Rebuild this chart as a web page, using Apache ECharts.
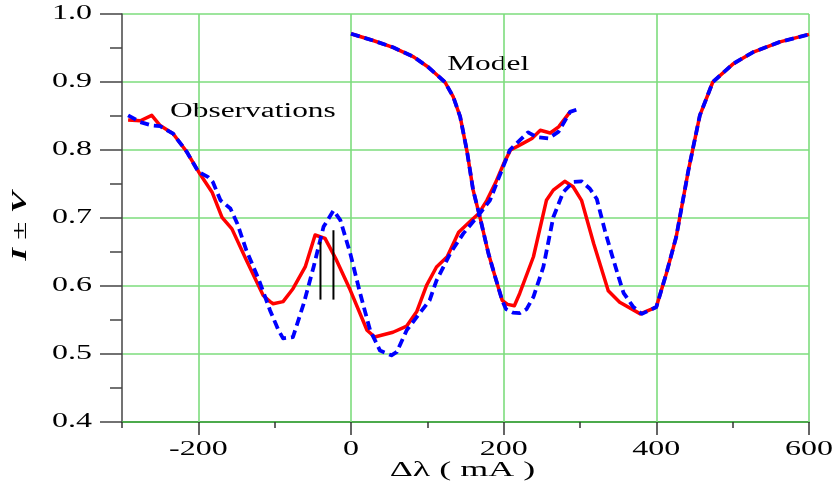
<!DOCTYPE html>
<html>
<head>
<meta charset="utf-8">
<script src="https://cdn.jsdelivr.net/npm/echarts@6/dist/echarts.min.js"></script>
<style>
  html, body { margin: 0; padding: 0; background: #ffffff; }
  #chart { width: 837px; height: 485px; }
</style>
</head>
<body>
<div id="chart"></div>
<script>
// Observed Stokes profiles: offset from line centre (mA) and I+V / I-V
const obsPlusX  = [-292, -276, -261, -250, -233, -215, -198, -182, -169, -156, -137, -115, -106, -102, -89, -76, -60, -47, -34, -19, -1, 21, 31, 55, 73, 86, 99, 112, 126, 141, 158, 167, 178, 189, 200, 209, 224, 237, 248, 261, 272, 287];
const obsPlusY  = [0.844, 0.843, 0.851, 0.836, 0.824, 0.797, 0.765, 0.738, 0.701, 0.684, 0.638, 0.586, 0.577, 0.574, 0.577, 0.596, 0.628, 0.675, 0.670, 0.638, 0.594, 0.535, 0.525, 0.532, 0.541, 0.562, 0.601, 0.628, 0.643, 0.679, 0.697, 0.706, 0.726, 0.751, 0.780, 0.800, 0.809, 0.817, 0.829, 0.825, 0.834, 0.856];
const obsMinusX = [-292, -276, -261, -250, -233, -215, -200, -187, -181, -171, -158, -149, -137, -124, -119, -106, -95, -89, -76, -62, -49, -36, -23, -14, -1, 12, 25, 38, 53, 60, 73, 88, 103, 112, 130, 147, 167, 182, 195, 208, 232, 243, 259, 272, 287, 300];
const obsMinusY = [0.851, 0.841, 0.836, 0.835, 0.824, 0.797, 0.768, 0.760, 0.753, 0.726, 0.714, 0.692, 0.652, 0.618, 0.604, 0.564, 0.535, 0.523, 0.525, 0.574, 0.628, 0.687, 0.711, 0.697, 0.648, 0.589, 0.535, 0.505, 0.498, 0.503, 0.535, 0.557, 0.579, 0.608, 0.648, 0.677, 0.704, 0.726, 0.763, 0.800, 0.826, 0.819, 0.817, 0.827, 0.856, 0.861];

// Model profiles
const modelPlusX  = [0, 29, 55, 82, 101, 123, 134, 143, 152, 160, 169, 180, 189, 198, 205, 214, 221, 239, 256, 265, 280, 291, 302, 318, 337, 352, 379, 400, 413, 426, 442, 457, 474, 501, 527, 562, 600];
const modelPlusY  = [0.971, 0.961, 0.951, 0.937, 0.922, 0.900, 0.878, 0.849, 0.798, 0.741, 0.701, 0.648, 0.613, 0.579, 0.573, 0.571, 0.589, 0.643, 0.726, 0.741, 0.754, 0.746, 0.726, 0.662, 0.593, 0.576, 0.559, 0.569, 0.618, 0.672, 0.770, 0.851, 0.900, 0.927, 0.944, 0.959, 0.970];
const modelMinusX = [0, 29, 55, 82, 101, 123, 134, 143, 152, 160, 169, 180, 189, 198, 203, 212, 221, 230, 239, 252, 265, 278, 291, 302, 313, 322, 333, 342, 352, 357, 370, 381, 400, 413, 426, 442, 457, 474, 501, 527, 562, 600];
const modelMinusY = [0.971, 0.961, 0.951, 0.937, 0.922, 0.900, 0.878, 0.849, 0.798, 0.741, 0.701, 0.648, 0.613, 0.579, 0.566, 0.561, 0.560, 0.566, 0.584, 0.628, 0.701, 0.738, 0.753, 0.754, 0.743, 0.728, 0.680, 0.645, 0.608, 0.590, 0.569, 0.559, 0.569, 0.618, 0.672, 0.770, 0.851, 0.900, 0.927, 0.944, 0.959, 0.970];

// Vertical markers near the observed emission peak
const markerX    = [-40, -23];
const markerLowY = [0.58, 0.58];
const markerTopY = [0.665, 0.682];

// Axes
const xMajorTicks = [-200, 0, 200, 400, 600];
const xMinorTicks = [-300, -100, 100, 300, 500];
const yTicks      = [0.4, 0.5, 0.6, 0.7, 0.8, 0.9, 1.0];

const GRID_GREEN = '#7ddc7d';
const AXIS_GREEN = '#4caa4c';
const SERIF = '"Liberation Serif", "Times New Roman", serif';

const pairs = (xs, ys) => xs.map((x, i) => [x, ys[i]]);

const lineSeries = (name, xs, ys, color, dashed, z) => ({
  name, type: 'line', xAxisIndex: 0, yAxisIndex: 0,
  data: pairs(xs, ys),
  showSymbol: false, symbol: 'none', smooth: false, z,
  lineStyle: { color, width: dashed ? 3.8 : 3.5, type: dashed ? [9, 5] : 'solid', cap: 'butt', join: 'round' },
  emphasis: { disabled: true }, silent: true
});

const series = [
  Object.assign(lineSeries('Observations I+V', obsPlusX, obsPlusY, '#ff0000', false, 3), {
    markLine: {
      silent: true, z: 1, symbol: ['none', 'none'], label: { show: false },
      lineStyle: { color: GRID_GREEN, width: 1.6, type: 'solid' },
      emphasis: { disabled: true },
      data: xMajorTicks.map(v => ({ xAxis: v }))
    }
  }),
  lineSeries('Model I+V', modelPlusX, modelPlusY, '#ff0000', false, 3),
  lineSeries('Observations I-V', obsMinusX, obsMinusY, '#0000ff', true, 4),
  lineSeries('Model I-V', modelMinusX, modelMinusY, '#0000ff', true, 4)
];
markerX.forEach((x, i) => {
  series.push({
    type: 'line', xAxisIndex: 0, yAxisIndex: 0, showSymbol: false, symbol: 'none', z: 5, silent: true,
    data: [[x, markerLowY[i]], [x, markerTopY[i]]],
    lineStyle: { color: '#000000', width: 2 }
  });
});

const chart = echarts.init(document.getElementById('chart'), null, { renderer: 'canvas' });

chart.setOption({
  animation: false,
  backgroundColor: '#ffffff',
  grid: { left: 122, right: 28, top: 14, bottom: 63, containLabel: false },
  xAxis: [
    {
      type: 'value', min: -300, max: 600, interval: 100, position: 'bottom',
      axisLine: { show: true, onZero: false, lineStyle: { color: AXIS_GREEN, width: 2 } },
      axisTick: { show: true, customValues: xMajorTicks, length: 13, lineStyle: { color: '#333333', width: 1.5 } },
      axisLabel: { show: false },
      splitLine: { show: false }
    },
    {
      type: 'value', min: -300, max: 600, interval: 100, position: 'bottom', gridIndex: 0,
      axisLine: { show: false, onZero: false },
      axisTick: { show: true, customValues: xMinorTicks, length: 6, lineStyle: { color: '#333333', width: 1.5 } },
      axisLabel: { show: false },
      splitLine: { show: false }
    }
  ],
  yAxis: {
    type: 'value', min: 0.4, max: 1.0, interval: 0.1,
    axisLine: { show: true, onZero: false, lineStyle: { color: '#444444', width: 1.5 } },
    axisTick: { show: true, length: 22, lineStyle: { color: '#444444', width: 1.5 } },
    minorTick: { show: true, splitNumber: 2, length: 12, lineStyle: { color: '#444444', width: 1.5 } },
    axisLabel: { show: false },
    splitLine: { show: true, lineStyle: { color: GRID_GREEN, width: 1.6 } }
  },
  series
});

// Tick labels and titles are set in a wide serif face, placed from the axis scales
const xPix = v => chart.convertToPixel({ xAxisIndex: 0 }, v);
const yPix = v => chart.convertToPixel({ yAxisIndex: 0 }, v);
const axisLeft = xPix(-300);
const axisBottom = yPix(0.4);
const WIDE = 1.6;

const graphics = [];
xMajorTicks.forEach(v => graphics.push({
  type: 'text', x: xPix(v), y: axisBottom + 28, scaleX: WIDE, silent: true,
  style: { text: String(v), font: '20px ' + SERIF, fill: '#000', align: 'center', verticalAlign: 'middle' }
}));
yTicks.forEach(v => graphics.push({
  type: 'text', x: axisLeft - 30, y: yPix(v), scaleX: WIDE, silent: true,
  style: { text: v.toFixed(1), font: '20px ' + SERIF, fill: '#000', align: 'right', verticalAlign: 'middle' }
}));
graphics.push({
  type: 'text', x: (xPix(-300) + xPix(600)) / 2 - 3, y: axisBottom + 49, scaleX: 1.8, silent: true,
  style: { text: 'Δλ ( mA )', font: '20px ' + SERIF, fill: '#000', align: 'center', verticalAlign: 'middle' }
});
graphics.push({
  type: 'text', x: 21, y: (yPix(0.4) + yPix(1.0)) / 2 + 8, rotation: Math.PI / 2, scaleX: 1.65, silent: true,
  style: {
    text: '{b|I} ± {b|V}', font: '20px ' + SERIF, fill: '#000', align: 'center', verticalAlign: 'middle',
    rich: { b: { font: 'italic bold 20px ' + SERIF, fill: '#000' } }
  }
});
graphics.push({
  type: 'text', x: xPix(-237), y: yPix(0.856), scaleX: 1.57, silent: true,
  style: { text: 'Observations', font: '20px ' + SERIF, fill: '#000', align: 'left', verticalAlign: 'middle' }
});
graphics.push({
  type: 'text', x: xPix(126), y: yPix(0.926), scaleX: 1.57, silent: true,
  style: { text: 'Model', font: '20px ' + SERIF, fill: '#000', align: 'left', verticalAlign: 'middle' }
});

chart.setOption({ graphic: graphics });
</script>
</body>
</html>
